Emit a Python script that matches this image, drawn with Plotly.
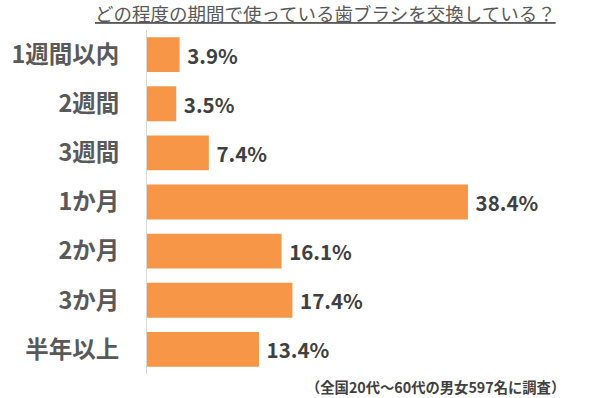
import plotly.graph_objects as go

categories = ["1週間以内", "2週間", "3週間", "1か月", "2か月", "3か月", "半年以上"]
values = [3.9, 3.5, 7.4, 38.4, 16.1, 17.4, 13.4]
value_labels = ["3.9%", "3.5%", "7.4%", "38.4%", "16.1%", "17.4%", "13.4%"]
title_text = "どの程度の期間で使っている歯ブラシを交換している？"
note_text = "（全国20代～60代の男女597名に調査）"

FONT = "Noto Sans CJK JP"
W, H = 600, 398
L, R, T, B = 147, 0, 30, 24
pw, ph = W - L - R, H - T - B


def px_x(x):
    return (x - L) / pw


def px_y(y):
    return (H - B - y) / ph


fig = go.Figure()
fig.add_trace(go.Bar(
    y=categories, x=values, orientation="h",
    marker=dict(color="#F79646", line=dict(width=0)),
    text=["\u00a0<b>" + t + "</b>" for t in value_labels],
    textposition="outside",
    textfont=dict(family=FONT, size=20.5, color="#404040"),
    cliponaxis=False,
    width=0.71,
    hoverinfo="skip",
))

fig.update_layout(
    width=W, height=H,
    margin=dict(l=L, r=R, t=T, b=B, autoexpand=False),
    paper_bgcolor="white", plot_bgcolor="white",
    showlegend=False,
    xaxis=dict(range=[0, 54.2], visible=False, automargin=False),
    yaxis=dict(
        autorange="reversed", automargin=False,
        showline=True, linecolor="#d9d9d9", linewidth=1,
        showgrid=False, ticks="",
        tickfont=dict(family=FONT, size=23.5, color="#595959", weight="bold"),
        ticklabelstandoff=22,
    ),
    annotations=[
        dict(text="<u>" + title_text + "</u>", xref="paper", yref="paper",
             x=px_x(325), y=px_y(13), xanchor="center", yanchor="middle",
             showarrow=False, font=dict(family=FONT, size=18.5, color="#595959")),
        dict(text="<b>" + note_text + "</b>", xref="paper", yref="paper",
             x=px_x(435), y=px_y(386), xanchor="center", yanchor="middle",
             showarrow=False, font=dict(family=FONT, size=14.3, color="#404040")),
    ],
)

fig.write_html(
    "out.html",
    config={"displayModeBar": False},
    post_script="document.body.style.margin='0';document.body.style.overflow='hidden';",
)
